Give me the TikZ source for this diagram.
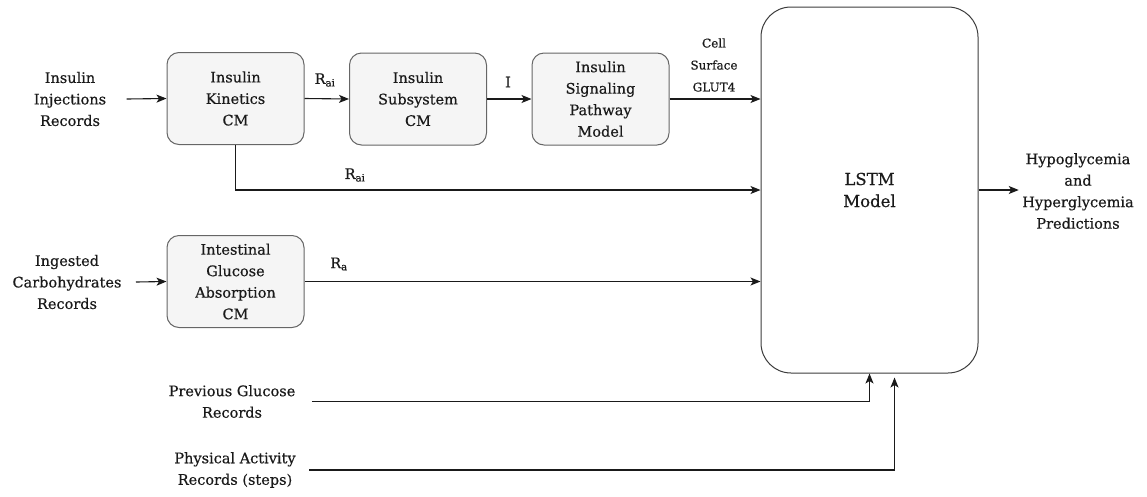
\documentclass[tikz,border=0pt]{standalone}
\usepackage{fontspec}
\setmainfont{DejaVu Serif}[FakeBold=0.5]
\usetikzlibrary{arrows.meta,calc}
\definecolor{boxfill}{HTML}{F5F5F5}
\definecolor{boxline}{HTML}{666666}
\definecolor{ink}{HTML}{1A1A1A}
\begin{document}
\begin{tikzpicture}[x=1pt,y=-1pt,
  every node/.style={text=ink},
  txt/.style={align=center,font=\fontsize{14.5}{21.5}\selectfont},
  lbl/.style={align=center,font=\fontsize{14.5}{21.5}\selectfont},
  small/.style={align=center,font=\fontsize{12}{22}\selectfont},
  model/.style={draw=boxline,fill=boxfill,line width=1pt,rounded corners=12,
    minimum width=137,minimum height=92,align=center,
    font=\fontsize{14.5}{21.5}\selectfont},
  arr/.style={draw=ink,line width=1.1pt,-{Stealth[length=10pt,width=8pt,inset=2.5pt]}}
]
\useasboundingbox (0,0) rectangle (1147,496);

% model blocks
\node[model] (kin) at (235.5,98.5) {Insulin\\Kinetics\\CM};
\node[model] (sub) at (418,99) {Insulin\\Subsystem\\CM};
\node[model] (sig) at (600.5,99) {Insulin\\Signaling\\Pathway\\Model};
\node[model] (gut) at (235.5,281.5) {Intestinal\\Glucose\\Absorption\\CM};
\node[draw=ink!85,fill=white,line width=1pt,rounded corners=30,
  minimum width=217,minimum height=366,align=center,
  font=\fontsize{16.5}{22}\selectfont] (lstm) at (869.5,190) {LSTM\\Model};

% inputs and output
\node[txt] (inj) at (70,99) {Insulin\\Injections\\Records};
\node[txt] (carb) at (67,282) {Ingested\\Carbohydrates\\Records};
\node[txt] (prev) at (232,401.5) {Previous Glucose\\Records};
\node[txt] (phys) at (235,470) {Physical Activity\\Records (steps)};
\node[txt] (out) at (1078,191) {Hypoglycemia\\and\\Hyperglycemia\\Predictions};

% signal labels
\node[lbl] (l1) at (325,80) {R\textsubscript{ai}};
\node[lbl] (l2) at (508,82) {I};
\node[small] (l3) at (714,65) {Cell\\Surface\\GLUT4};
\node[lbl] (l4) at (355,175) {R\textsubscript{ai}};
\node[lbl] (l5) at (339,264) {R\textsubscript{a}};

% connectors
\draw[arr] ([xshift=17]inj.east) -- (kin.west);
\draw[arr] ([xshift=11]carb.east) -- (gut.west);
\draw[arr] (kin.east) -- (sub.west);
\draw[arr] (sub.east) -- (sig.west);
\draw[arr] (sig.east) -- (sig.east -| lstm.west);
\draw[arr] (kin.south) |- (lstm.west);
\draw[arr] (gut.east) -- (gut.east -| lstm.west);
\draw[arr] ([xshift=13]prev.east) -| (lstm.south);
\draw[arr] ([xshift=10]phys.east) -| ([xshift=25,yshift=-4]lstm.south);
\draw[arr] (lstm.east) -- (lstm.east -| out.west);
\end{tikzpicture}
\end{document}
